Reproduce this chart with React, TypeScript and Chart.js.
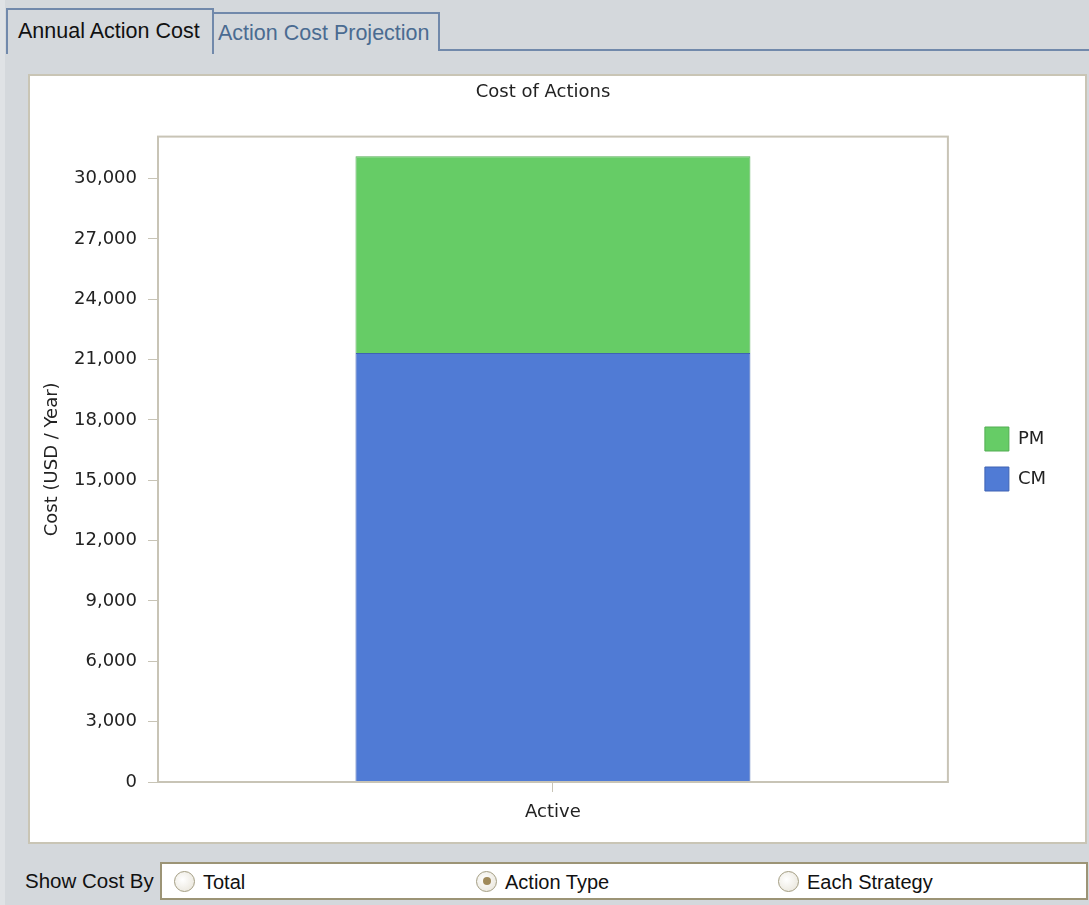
import React, { useEffect, useRef } from "react";
import { Chart, registerables } from "chart.js";

Chart.register(...registerables);

const categories = ["Active"];
const seriesNames = ["CM", "PM"];
const cmValues = [21330];
const pmValues = [9780];
const yMax = 32090;
const yTickValues = [0, 3000, 6000, 9000, 12000, 15000, 18000, 21000, 24000, 27000, 30000];

const FONT = "'Liberation Sans', Arial, sans-serif";
const CFONT = "'DejaVu Sans', Verdana, sans-serif";

const framePlugin = {
  id: "frame",
  afterDraw(chart: any) {
    const { ctx, chartArea } = chart;
    ctx.save();
    ctx.strokeStyle = "#c8c4b6";
    ctx.lineWidth = 2;
    ctx.strokeRect(chartArea.left, chartArea.top, chartArea.right - chartArea.left, chartArea.bottom - chartArea.top);
    ctx.restore();
  },
};

function ChartView() {
  const ref = useRef<HTMLCanvasElement | null>(null);
  useEffect(() => {
    if (!ref.current) return;
    const chart = new Chart(ref.current, {
      type: "bar",
      data: {
        labels: categories,
        datasets: [
          {
            label: seriesNames[0],
            data: cmValues,
            backgroundColor: "#507bd5",
            borderColor: "#3f63b3",
            borderWidth: 1,
            stack: "s",
          },
          {
            label: seriesNames[1],
            data: pmValues,
            backgroundColor: "#66cc66",
            borderColor: "#52ad52",
            borderWidth: 1,
            stack: "s",
          },
        ],
      },
      options: {
        animation: false,
        responsive: false,
        maintainAspectRatio: false,
        datasets: { bar: { barPercentage: 0.5, categoryPercentage: 1 } } as any,
        layout: { padding: { left: 0, right: 29, top: 0, bottom: 0 } },
        plugins: {
          title: {
            display: true,
            text: "Cost of Actions",
            color: "#222",
            font: { family: CFONT, size: 18, weight: "normal" },
            padding: { top: 6, bottom: 33 },
          },
          legend: {
            position: "right",
            reverse: true,
            labels: {
              boxWidth: 24,
              boxHeight: 24,
              padding: 16,
              color: "#222",
              font: { family: CFONT, size: 18 },
            },
          },
          tooltip: { enabled: false },
        },
        scales: {
          x: {
            stacked: true,
            grid: { display: true, offset: false, drawOnChartArea: false, drawTicks: true, tickLength: 10, color: "#c8c4b6" },
            border: { display: false },
            ticks: { color: "#222", font: { family: CFONT, size: 18 }, padding: 10 },
            afterFit: (s: any) => { s.height = 60; },
          },
          y: {
            stacked: true,
            min: 0,
            max: yMax,
            grid: { display: true, drawOnChartArea: false, drawTicks: true, tickLength: 10, color: "#c8c4b6" },
            border: { display: false },
            afterBuildTicks: (s: any) => {
              s.ticks = yTickValues.map((v) => ({ value: v }));
            },
            ticks: {
              color: "#222",
              font: { family: CFONT, size: 18 },
              padding: 11,
              callback: (v: any) => Number(v).toLocaleString("en-US"),
            } as any,
            title: {
              display: true,
              text: "Cost (USD / Year)",
              color: "#222",
              font: { family: CFONT, size: 18 },
              padding: { top: 12, bottom: 0 },
            },
            afterFit: (s: any) => { s.width = 128; },
          },
          yRight: {
            type: "linear",
            position: "right",
            display: true,
            grid: { display: false },
            border: { display: false },
            ticks: { display: false },
            afterFit: (s: any) => { s.width = 21; },
          },
        },
      },
      plugins: [framePlugin],
    });
    return () => chart.destroy();
  }, []);
  return <canvas ref={ref} width={1055} height={766} style={{ position: "absolute", left: 30, top: 76, width: 1055, height: 766 }} />;
}

function Radio({ x, label, checked }: { x: number; label: string; checked?: boolean }) {
  return (
    <div style={{ position: "absolute", left: x, top: 0, height: 34, display: "flex", alignItems: "center" }}>
      <div
        style={{
          width: 21,
          height: 21,
          borderRadius: "50%",
          border: "1.5px solid #a39d82",
          background: "radial-gradient(circle at 40% 40%, #ffffff, #e6e2d6)",
          boxSizing: "border-box",
          display: "flex",
          alignItems: "center",
          justifyContent: "center",
        }}
      >
        {checked ? <div style={{ width: 8, height: 8, borderRadius: "50%", background: "#a08a5a" }} /> : null}
      </div>
      <span style={{ marginLeft: 8, fontSize: 20, color: "#111", fontFamily: FONT, lineHeight: "34px", position: "relative", top: 1 }}>{label}</span>
    </div>
  );
}

export default function App() {
  return (
    <div style={{ position: "absolute", left: 0, top: 0, width: 1089, height: 905, background: "#d4d8dc", overflow: "hidden", fontFamily: FONT }}>
      <div style={{ position: "absolute", left: 0, top: 0, width: 5, height: 905, background: "#dfe2e5" }} />
      <div style={{ position: "absolute", left: 440, top: 49, width: 649, height: 2, background: "#7189ab" }} />
      <div
        style={{
          position: "absolute",
          left: 213,
          top: 12,
          width: 227,
          height: 39,
          borderTop: "2px solid #7189ab",
          borderRight: "2px solid #7189ab",
          borderLeft: "1px solid #7189ab",
          boxSizing: "border-box",
          color: "#4a6b91",
          fontSize: 21.5,
          lineHeight: "38px",
          paddingLeft: 4,
          whiteSpace: "nowrap",
          overflow: "hidden",
        }}
      >
        Action Cost Projection
      </div>
      <div
        style={{
          position: "absolute",
          left: 6,
          top: 8,
          width: 208,
          height: 46,
          borderTop: "2px solid #7189ab",
          borderLeft: "2px solid #7189ab",
          borderRight: "2px solid #7189ab",
          boxSizing: "border-box",
          background: "#d4d8dc",
          color: "#111",
          fontSize: 21.5,
          lineHeight: "42px",
          paddingLeft: 10,
          whiteSpace: "nowrap",
          overflow: "hidden",
        }}
      >
        Annual Action Cost
      </div>
      <div style={{ position: "absolute", left: 28, top: 74, width: 1059, height: 770, border: "2px solid #c9c5b5", boxSizing: "border-box", background: "#ffffff" }} />
      <ChartView />
      <div style={{ position: "absolute", left: 25, top: 869, fontSize: 20.5, color: "#111", whiteSpace: "nowrap" }}>Show Cost By</div>
      <div style={{ position: "absolute", left: 160, top: 862, width: 928, height: 38, border: "2px solid #9c9476", boxSizing: "border-box", background: "#ffffff", overflow: "hidden" }}>
        <Radio x={12} label="Total" />
        <Radio x={314} label="Action Type" checked />
        <Radio x={616} label="Each Strategy" />
      </div>
    </div>
  );
}
